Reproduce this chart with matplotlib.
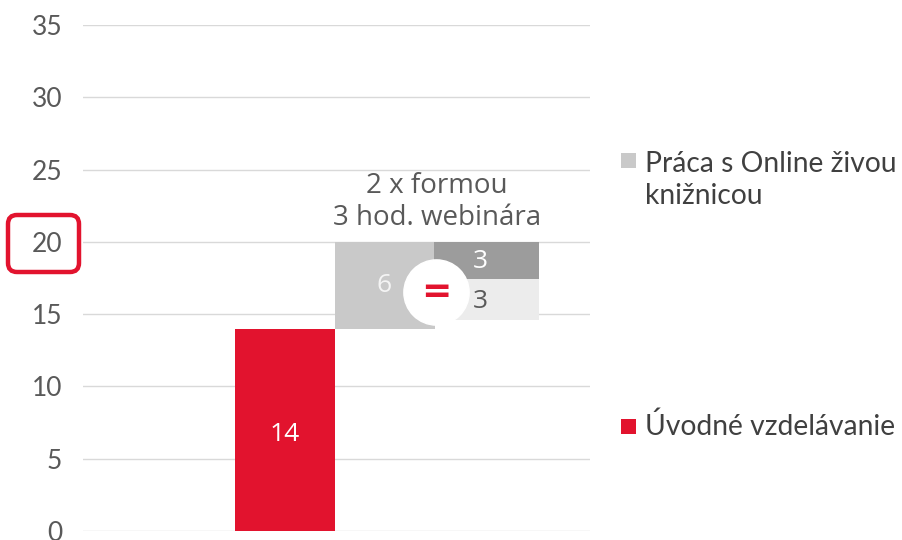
import matplotlib
matplotlib.use("Agg")
import matplotlib.pyplot as plt
from matplotlib.patches import FancyBboxPatch, Rectangle
from matplotlib.transforms import IdentityTransform

# ---- data ----
yticks = [0, 5, 10, 15, 20, 25, 30, 35]
intro_label = "Úvodné vzdelávanie"
intro_value = 14
online_label = "Práca s Online živou\nknižnicou"
online_value = 6          # floating on top of the intro bar
split_bottoms = [14.6, 17.4]   # light, dark segments of the split column
split_heights = [2.8, 2.6]
split_labels = ["3", "3"]
annotation = "2 x formou\n3 hod. webinára"

RED = "#E2132E"
GRAY = "#C9C9C9"
DARK = "#9C9C9C"
LIGHT = "#ECECEC"
TXT = "#595959"

plt.rcParams['font.family'] = ['Lato', 'DejaVu Sans']

fig = plt.figure(figsize=(9.03, 5.40), dpi=100)
ax = fig.add_axes([83/903, (540-531)/540, (590-83)/903, (531-25)/540])
ax.set_xlim(-2.02, 3.05)
ax.set_ylim(0, 35)

for y in yticks:
    ax.axhline(y, color="#D9D9D9", lw=1.0, zorder=0)

# bars
ax.bar(0, intro_value, width=1.0, color=RED, zorder=2)
ax.bar(1, online_value, bottom=intro_value, width=1.0, color=GRAY, zorder=2)
ax.bar(2.02, split_heights[0], bottom=split_bottoms[0], width=1.05, color=LIGHT, zorder=2)
ax.bar(2.02, split_heights[1], bottom=split_bottoms[1], width=1.05, color=DARK, zorder=2)

# value labels
ax.text(0, intro_value * 0.5 - 0.3, str(intro_value), color="white", fontsize=19,
        ha="center", va="center", family=['Open Sans'], zorder=3)
ax.text(0.99, intro_value + online_value / 2, str(online_value), color="#F4F4F4", fontsize=19,
        ha="center", va="center", family=['Open Sans'], zorder=3)
ax.text(1.95, split_bottoms[0] + split_heights[0] / 2 - 0.15, split_labels[0], color=TXT,
        fontsize=19, ha="center", va="center", family=['Open Sans'], zorder=3)
ax.text(1.95, split_bottoms[1] + split_heights[1] / 2 - 0.05, split_labels[1], color="white",
        fontsize=19, ha="center", va="center", family=['Open Sans'], zorder=3)

# circle with equals sign
ax.plot([1.51], [16.5], marker="o", markersize=47, color="white", zorder=4)
ax.text(1.51, 16.55, "=", color=RED, fontsize=26, fontweight="bold",
        ha="center", va="center", family="DejaVu Sans", zorder=5)

# annotation
ax.text(1.52, 22.75, annotation, color=TXT, fontsize=20, ha="center", va="center",
        linespacing=1.22, family=['Open Sans'], zorder=3)

ax.set_yticks(yticks)
ax.set_yticklabels([str(v) for v in yticks])
ax.set_xticks([])
ax.tick_params(axis="y", length=0, pad=15, labelsize=19, labelcolor=TXT)
for s in ax.spines.values():
    s.set_visible(False)

# legend (manual)
fig.patches.append(Rectangle((621, 540-168), 15, 15, transform=IdentityTransform(),
                             facecolor=GRAY, edgecolor="none", figure=fig))
fig.text(645/903, (540-180)/540, online_label, color="#404040", fontsize=20.3,
         ha="left", va="center", linespacing=1.3)
fig.patches.append(Rectangle((621, 540-434), 15, 15, transform=IdentityTransform(),
                             facecolor=RED, edgecolor="none", figure=fig))
fig.text(645/903, (540-426)/540, intro_label, color="#404040", fontsize=20.3,
         ha="left", va="center")

# highlight box around "20"
fig.patches.append(FancyBboxPatch((8, 540-272), 71, 57,
                                  boxstyle="round,pad=0,rounding_size=9",
                                  transform=IdentityTransform(), facecolor="none",
                                  edgecolor=RED, linewidth=3.2, figure=fig))

fig.savefig("out.png", dpi=100)
